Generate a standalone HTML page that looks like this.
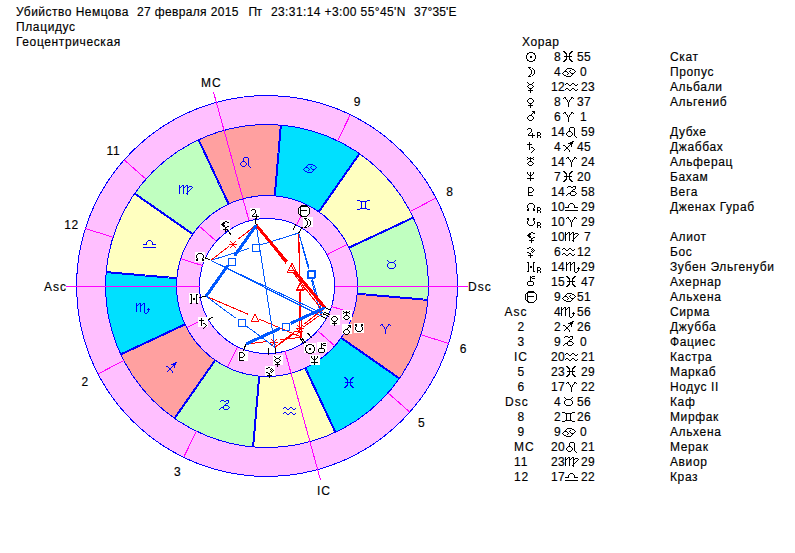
<!DOCTYPE html>
<html><head><meta charset="utf-8"><style>
html,body{margin:0;padding:0;background:#fff;width:795px;height:553px;overflow:hidden}
svg{display:block}
.t{font-family:"Liberation Sans",sans-serif;font-size:12px;fill:#000;letter-spacing:0.62px;stroke:#000;stroke-width:0.15px}
.l{font-family:"Liberation Sans",sans-serif;font-size:12px;fill:#000;letter-spacing:1px;stroke:#000;stroke-width:0.15px}
.n{font-family:"Liberation Sans",sans-serif;font-size:12px;fill:#000;letter-spacing:0.33px;stroke:#000;stroke-width:0.15px}
</style></head><body>
<svg width="795" height="553" viewBox="0 0 795 553"><defs><path id="g_sun" d="M3 0h4v1h-4zM1 1h2v1h-2zM7 1h2v1h-2zM1 2h1v1h-1zM8 2h1v1h-1zM0 3h1v1h-1zM9 3h1v1h-1zM0 4h1v1h-1zM4 4h2v1h-2zM9 4h1v1h-1zM0 5h1v1h-1zM4 5h2v1h-2zM9 5h1v1h-1zM0 6h1v1h-1zM9 6h1v1h-1zM1 7h1v1h-1zM8 7h1v1h-1zM1 8h2v1h-2zM7 8h2v1h-2zM3 9h4v1h-4z"/><path id="g_moon" d="M0 0h3v1h-3zM1 1h1v1h-1zM4 1h1v1h-1zM2 2h1v1h-1zM5 2h1v1h-1zM3 3h1v1h-1zM6 3h1v1h-1zM3 4h1v1h-1zM6 4h1v1h-1zM3 5h1v1h-1zM6 5h1v1h-1zM3 6h1v1h-1zM6 6h1v1h-1zM2 7h1v1h-1zM5 7h1v1h-1zM1 8h1v1h-1zM4 8h1v1h-1zM0 9h3v1h-3z"/><path id="g_mercury" d="M0 0h1v1h-1zM6 0h1v1h-1zM1 1h1v1h-1zM5 1h1v1h-1zM2 2h3v1h-3zM1 3h1v1h-1zM5 3h1v1h-1zM0 4h1v1h-1zM6 4h1v1h-1zM1 5h1v1h-1zM5 5h1v1h-1zM2 6h3v1h-3zM3 7h1v1h-1zM1 8h5v1h-5zM3 9h1v1h-1zM3 10h1v1h-1z"/><path id="g_venus" d="M2 0h3v1h-3zM1 1h1v1h-1zM5 1h1v1h-1zM0 2h1v1h-1zM6 2h1v1h-1zM0 3h1v1h-1zM6 3h1v1h-1zM1 4h1v1h-1zM5 4h1v1h-1zM2 5h3v1h-3zM3 6h1v1h-1zM1 7h5v1h-5zM3 8h1v1h-1zM3 9h1v1h-1z"/><path id="g_mars" d="M5 0h3v1h-3zM6 1h2v1h-2zM5 2h1v1h-1zM7 2h1v1h-1zM4 3h1v1h-1zM2 4h3v1h-3zM1 5h1v1h-1zM5 5h1v1h-1zM0 6h1v1h-1zM6 6h1v1h-1zM0 7h1v1h-1zM6 7h1v1h-1zM1 8h1v1h-1zM5 8h1v1h-1zM2 9h3v1h-3z"/><path id="g_jupiter" d="M1 0h3v1h-3zM0 1h1v1h-1zM4 1h1v1h-1zM4 2h1v1h-1zM4 3h1v1h-1zM3 4h1v1h-1zM2 5h1v1h-1zM5 5h1v1h-1zM1 6h1v1h-1zM5 6h1v1h-1zM1 7h7v1h-7zM5 8h1v1h-1zM5 9h1v1h-1z"/><path id="g_R" d="M0 0h3v1h-3zM0 1h1v1h-1zM3 1h1v1h-1zM0 2h1v1h-1zM3 2h1v1h-1zM0 3h3v1h-3zM0 4h1v1h-1zM3 4h1v1h-1zM0 5h1v1h-1zM3 5h1v1h-1z"/><path id="g_saturn" d="M2 0h1v1h-1zM2 1h1v1h-1zM0 2h5v1h-5zM2 3h1v1h-1zM2 4h1v1h-1zM2 5h1v1h-1zM4 5h2v1h-2zM2 6h1v1h-1zM6 6h1v1h-1zM2 7h1v1h-1zM7 7h1v1h-1zM6 8h1v1h-1zM5 9h1v1h-1zM4 10h1v1h-1z"/><path id="g_uranus" d="M0 0h1v1h-1zM3 0h1v1h-1zM6 0h1v1h-1zM1 1h5v1h-5zM0 2h1v1h-1zM3 2h1v1h-1zM6 2h1v1h-1zM3 3h1v1h-1zM2 4h3v1h-3zM1 5h1v1h-1zM5 5h1v1h-1zM0 6h1v1h-1zM6 6h1v1h-1zM1 7h1v1h-1zM5 7h1v1h-1zM2 8h3v1h-3z"/><path id="g_neptune" d="M0 0h1v1h-1zM3 0h1v1h-1zM6 0h1v1h-1zM0 1h1v1h-1zM3 1h1v1h-1zM6 1h1v1h-1zM1 2h1v1h-1zM3 2h1v1h-1zM5 2h1v1h-1zM2 3h3v1h-3zM3 4h1v1h-1zM3 5h1v1h-1zM0 6h7v1h-7zM3 7h1v1h-1zM3 8h1v1h-1z"/><path id="g_pluto" d="M0 0h4v1h-4zM0 1h1v1h-1zM4 1h1v1h-1zM0 2h1v1h-1zM5 2h1v1h-1zM0 3h1v1h-1zM5 3h1v1h-1zM0 4h1v1h-1zM4 4h1v1h-1zM0 5h4v1h-4zM0 6h1v1h-1zM0 7h1v1h-1zM0 8h5v1h-5z"/><path id="g_nnode" d="M2 0h4v1h-4zM1 1h1v1h-1zM6 1h1v1h-1zM0 2h1v1h-1zM7 2h1v1h-1zM0 3h1v1h-1zM7 3h1v1h-1zM0 4h1v1h-1zM7 4h1v1h-1zM1 5h1v1h-1zM6 5h1v1h-1zM0 6h2v1h-2zM6 6h2v1h-2zM0 7h2v1h-2zM6 7h2v1h-2z"/><path id="g_snode" d="M0 0h2v1h-2zM6 0h2v1h-2zM0 1h2v1h-2zM6 1h2v1h-2zM1 2h1v1h-1zM6 2h1v1h-1zM0 3h1v1h-1zM7 3h1v1h-1zM0 4h1v1h-1zM7 4h1v1h-1zM0 5h1v1h-1zM7 5h1v1h-1zM1 6h1v1h-1zM6 6h1v1h-1zM2 7h4v1h-4z"/><path id="g_lilith" d="M4 0h2v1h-2zM2 1h2v1h-2zM6 1h2v1h-2zM1 2h3v1h-3zM0 3h3v1h-3zM1 4h3v1h-3zM2 5h2v1h-2zM6 5h2v1h-2zM4 6h2v1h-2zM4 7h1v1h-1zM2 8h5v1h-5zM4 9h1v1h-1zM4 10h1v1h-1z"/><path id="g_selena" d="M2 0h2v1h-2zM0 1h2v1h-2zM5 1h1v1h-1zM4 2h1v1h-1zM6 2h1v1h-1zM5 3h1v1h-1zM7 3h1v1h-1zM4 4h1v1h-1zM6 4h1v1h-1zM0 5h2v1h-2zM5 5h1v1h-1zM2 6h2v1h-2zM3 7h1v1h-1zM1 8h5v1h-5zM3 9h1v1h-1zM3 10h1v1h-1z"/><path id="g_H" d="M0 0h2v1h-2zM6 0h2v1h-2zM1 1h1v1h-1zM6 1h1v1h-1zM1 2h1v1h-1zM6 2h1v1h-1zM1 3h1v1h-1zM6 3h1v1h-1zM1 4h1v1h-1zM3 4h2v1h-2zM6 4h1v1h-1zM1 5h1v1h-1zM3 5h2v1h-2zM6 5h1v1h-1zM1 6h1v1h-1zM6 6h1v1h-1zM1 7h1v1h-1zM6 7h1v1h-1zM1 8h1v1h-1zM6 8h1v1h-1zM0 9h2v1h-2zM6 9h2v1h-2z"/><path id="g_chiron" d="M3 0h1v1h-1zM5 0h3v1h-3zM3 1h2v1h-2zM3 2h1v1h-1zM5 2h3v1h-3zM3 3h1v1h-1zM3 4h1v1h-1zM1 5h5v1h-5zM0 6h1v1h-1zM6 6h1v1h-1zM0 7h1v1h-1zM6 7h1v1h-1zM0 8h1v1h-1zM6 8h1v1h-1zM1 9h5v1h-5z"/><path id="g_pf" d="M3 0h6v1h-6zM2 1h8v1h-8zM1 2h2v1h-2zM10 2h1v1h-1zM0 3h1v1h-1zM2 3h1v1h-1zM11 3h1v1h-1zM0 4h1v1h-1zM2 4h1v1h-1zM11 4h1v1h-1zM0 5h1v1h-1zM2 5h7v1h-7zM11 5h1v1h-1zM0 6h1v1h-1zM2 6h1v1h-1zM11 6h1v1h-1zM0 7h1v1h-1zM2 7h1v1h-1zM11 7h1v1h-1zM0 8h1v1h-1zM2 8h1v1h-1zM11 8h1v1h-1zM1 9h2v1h-2zM10 9h1v1h-1zM2 10h2v1h-2zM9 10h1v1h-1zM3 11h6v1h-6z"/><path id="g_pisces" d="M0 0h2v1h-2zM8 0h2v1h-2zM1 1h2v1h-2zM7 1h2v1h-2zM2 2h2v1h-2zM6 2h2v1h-2zM3 3h1v1h-1zM6 3h1v1h-1zM3 4h1v1h-1zM6 4h1v1h-1zM1 5h8v1h-8zM3 6h1v1h-1zM6 6h1v1h-1zM3 7h1v1h-1zM6 7h1v1h-1zM2 8h2v1h-2zM6 8h2v1h-2zM1 9h2v1h-2zM7 9h2v1h-2zM0 10h2v1h-2zM8 10h2v1h-2z"/><path id="g_cancer" d="M5 0h5v1h-5zM4 1h1v1h-1zM10 1h2v1h-2zM3 2h1v1h-1zM8 2h1v1h-1zM12 2h1v1h-1zM2 3h3v1h-3zM7 3h1v1h-1zM13 3h1v1h-1zM1 4h1v1h-1zM5 4h1v1h-1zM8 4h1v1h-1zM12 4h1v1h-1zM0 5h1v1h-1zM6 5h1v1h-1zM9 5h3v1h-3zM1 6h1v1h-1zM5 6h1v1h-1zM10 6h1v1h-1zM2 7h2v1h-2zM9 7h1v1h-1zM4 8h5v1h-5z"/><path id="g_aquarius" d="M1 0h2v1h-2zM7 0h2v1h-2zM0 1h1v1h-1zM3 1h1v1h-1zM6 1h1v1h-1zM9 1h1v1h-1zM12 1h1v1h-1zM4 2h2v1h-2zM10 2h2v1h-2zM1 5h2v1h-2zM7 5h2v1h-2zM0 6h1v1h-1zM3 6h1v1h-1zM6 6h1v1h-1zM9 6h1v1h-1zM12 6h1v1h-1zM4 7h2v1h-2zM10 7h2v1h-2z"/><path id="g_aries" d="M1 0h2v1h-2zM8 0h2v1h-2zM0 1h1v1h-1zM2 1h1v1h-1zM8 1h1v1h-1zM10 1h1v1h-1zM3 2h1v1h-1zM7 2h1v1h-1zM4 3h1v1h-1zM6 3h1v1h-1zM4 4h1v1h-1zM6 4h1v1h-1zM5 5h1v1h-1zM5 6h1v1h-1zM5 7h1v1h-1zM5 8h1v1h-1zM5 9h1v1h-1z"/><path id="g_leo" d="M4 0h4v1h-4zM3 1h1v1h-1zM8 1h1v1h-1zM3 2h1v1h-1zM8 2h1v1h-1zM3 3h1v1h-1zM8 3h1v1h-1zM2 4h3v1h-3zM8 4h1v1h-1zM1 5h1v1h-1zM5 5h1v1h-1zM8 5h1v1h-1zM0 6h1v1h-1zM6 6h1v1h-1zM8 6h1v1h-1zM0 7h1v1h-1zM6 7h1v1h-1zM8 7h1v1h-1zM1 8h1v1h-1zM5 8h1v1h-1zM8 8h1v1h-1zM2 9h3v1h-3zM9 9h1v1h-1zM10 10h1v1h-1z"/><path id="g_sagittarius" d="M9 0h2v1h-2zM7 1h3v1h-3zM5 2h5v1h-5zM7 3h2v1h-2zM0 4h2v1h-2zM6 4h1v1h-1zM8 4h1v1h-1zM2 5h1v1h-1zM5 5h1v1h-1zM8 5h1v1h-1zM3 6h2v1h-2zM3 7h2v1h-2zM2 8h1v1h-1zM5 8h1v1h-1zM1 9h1v1h-1zM6 9h1v1h-1zM6 10h1v1h-1z"/><path id="g_capricorn" d="M2 0h3v1h-3zM7 0h3v1h-3zM1 1h1v1h-1zM5 1h2v1h-2zM9 1h1v1h-1zM9 2h1v1h-1zM7 3h2v1h-2zM6 4h1v1h-1zM5 5h4v1h-4zM4 6h1v1h-1zM9 6h1v1h-1zM2 7h3v1h-3zM10 7h1v1h-1zM1 8h1v1h-1zM4 8h1v1h-1zM9 8h1v1h-1zM0 9h1v1h-1zM5 9h4v1h-4z"/><path id="g_libra" d="M5 0h3v1h-3zM4 1h1v1h-1zM8 1h1v1h-1zM3 2h1v1h-1zM9 2h1v1h-1zM3 3h1v1h-1zM9 3h1v1h-1zM0 4h4v1h-4zM9 4h4v1h-4zM0 7h13v1h-13z"/><path id="g_virgo" d="M0 0h1v1h-1zM3 0h2v1h-2zM7 0h2v1h-2zM0 1h1v1h-1zM2 1h1v1h-1zM4 1h1v1h-1zM6 1h1v1h-1zM8 1h1v1h-1zM10 1h3v1h-3zM0 2h2v1h-2zM4 2h2v1h-2zM8 2h2v1h-2zM13 2h1v1h-1zM0 3h1v1h-1zM4 3h1v1h-1zM8 3h1v1h-1zM12 3h1v1h-1zM0 4h1v1h-1zM4 4h1v1h-1zM8 4h1v1h-1zM11 4h1v1h-1zM0 5h1v1h-1zM4 5h1v1h-1zM8 5h1v1h-1zM10 5h1v1h-1zM0 6h1v1h-1zM4 6h1v1h-1zM8 6h2v1h-2zM0 7h1v1h-1zM4 7h1v1h-1zM8 7h1v1h-1zM0 8h1v1h-1zM4 8h1v1h-1zM7 8h2v1h-2zM8 9h1v1h-1z"/><path id="g_scorpio" d="M0 0h1v1h-1zM3 0h2v1h-2zM7 0h2v1h-2zM0 1h1v1h-1zM2 1h1v1h-1zM4 1h1v1h-1zM6 1h1v1h-1zM8 1h1v1h-1zM0 2h2v1h-2zM4 2h2v1h-2zM8 2h1v1h-1zM0 3h1v1h-1zM4 3h1v1h-1zM8 3h1v1h-1zM0 4h1v1h-1zM4 4h1v1h-1zM8 4h1v1h-1zM0 5h1v1h-1zM4 5h1v1h-1zM8 5h1v1h-1zM12 5h1v1h-1zM0 6h1v1h-1zM4 6h1v1h-1zM8 6h1v1h-1zM11 6h3v1h-3zM0 7h1v1h-1zM4 7h1v1h-1zM8 7h1v1h-1zM12 7h1v1h-1zM0 8h1v1h-1zM4 8h1v1h-1zM8 8h1v1h-1zM12 8h1v1h-1zM8 9h1v1h-1zM11 9h1v1h-1zM9 10h2v1h-2z"/><path id="g_taurus" d="M0 0h1v1h-1zM8 0h1v1h-1zM1 1h1v1h-1zM7 1h1v1h-1zM2 2h5v1h-5zM1 3h1v1h-1zM7 3h1v1h-1zM0 4h1v1h-1zM8 4h1v1h-1zM0 5h1v1h-1zM8 5h1v1h-1zM0 6h1v1h-1zM8 6h1v1h-1zM1 7h1v1h-1zM7 7h1v1h-1zM2 8h5v1h-5z"/><path id="g_gemini" d="M0 0h3v1h-3zM10 0h3v1h-3zM3 1h7v1h-7zM4 2h1v1h-1zM8 2h1v1h-1zM4 3h1v1h-1zM8 3h1v1h-1zM4 4h1v1h-1zM8 4h1v1h-1zM4 5h1v1h-1zM8 5h1v1h-1zM4 6h1v1h-1zM8 6h1v1h-1zM4 7h1v1h-1zM8 7h1v1h-1zM3 8h7v1h-7zM0 9h3v1h-3zM10 9h3v1h-3z"/><path id="g_m_sq" d="M0 0h8v1h-8zM0 1h1v1h-1zM7 1h1v1h-1zM0 2h1v1h-1zM7 2h1v1h-1zM0 3h1v1h-1zM7 3h1v1h-1zM0 4h1v1h-1zM7 4h1v1h-1zM0 5h1v1h-1zM7 5h1v1h-1zM0 6h1v1h-1zM7 6h1v1h-1zM0 7h8v1h-8z"/><path id="g_m_tri" d="M3 0h2v1h-2zM3 1h2v1h-2zM2 2h1v1h-1zM5 2h1v1h-1zM2 3h1v1h-1zM5 3h1v1h-1zM1 4h1v1h-1zM6 4h1v1h-1zM1 5h1v1h-1zM6 5h1v1h-1zM0 6h1v1h-1zM7 6h1v1h-1zM0 7h8v1h-8z"/><path id="g_m_sex" d="M1 0h1v1h-1zM6 0h1v1h-1zM2 1h1v1h-1zM5 1h1v1h-1zM3 2h2v1h-2zM0 3h8v1h-8zM3 4h2v1h-2zM2 5h1v1h-1zM5 5h1v1h-1zM1 6h1v1h-1zM6 6h1v1h-1z"/></defs><g shape-rendering="crispEdges"><circle cx="267.0" cy="286.0" r="190.5" fill="#ffbfff" stroke="#0000ff" stroke-width="1"/><path d="M399.4,378.48 A161.5,161.5 0 0 0 427.9,299.89 L357.16,293.78 A90.5,90.5 0 0 1 341.19,337.82 Z" fill="#ffa0a0"/><path d="M427.9,299.89 A161.5,161.5 0 0 0 413.29,217.58 L348.98,247.66 A90.5,90.5 0 0 1 357.16,293.78 Z" fill="#c0ffc0"/><path d="M413.29,217.58 A161.5,161.5 0 0 0 359.48,153.6 L318.82,211.81 A90.5,90.5 0 0 1 348.98,247.66 Z" fill="#ffffc0"/><path d="M359.48,153.6 A161.5,161.5 0 0 0 280.89,125.1 L274.78,195.84 A90.5,90.5 0 0 1 318.82,211.81 Z" fill="#00e0ff"/><path d="M280.89,125.1 A161.5,161.5 0 0 0 198.58,139.71 L228.66,204.02 A90.5,90.5 0 0 1 274.78,195.84 Z" fill="#ffa0a0"/><path d="M198.58,139.71 A161.5,161.5 0 0 0 134.6,193.52 L192.81,234.18 A90.5,90.5 0 0 1 228.66,204.02 Z" fill="#c0ffc0"/><path d="M134.6,193.52 A161.5,161.5 0 0 0 106.1,272.11 L176.84,278.22 A90.5,90.5 0 0 1 192.81,234.18 Z" fill="#ffffc0"/><path d="M106.1,272.11 A161.5,161.5 0 0 0 120.71,354.42 L185.02,324.34 A90.5,90.5 0 0 1 176.84,278.22 Z" fill="#00e0ff"/><path d="M120.71,354.42 A161.5,161.5 0 0 0 174.52,418.4 L215.18,360.19 A90.5,90.5 0 0 1 185.02,324.34 Z" fill="#ffa0a0"/><path d="M174.52,418.4 A161.5,161.5 0 0 0 253.11,446.9 L259.22,376.16 A90.5,90.5 0 0 1 215.18,360.19 Z" fill="#c0ffc0"/><path d="M253.11,446.9 A161.5,161.5 0 0 0 335.42,432.29 L305.34,367.98 A90.5,90.5 0 0 1 259.22,376.16 Z" fill="#ffffc0"/><path d="M335.42,432.29 A161.5,161.5 0 0 0 399.4,378.48 L341.19,337.82 A90.5,90.5 0 0 1 305.34,367.98 Z" fill="#00e0ff"/><circle cx="267.0" cy="286.0" r="161.5" fill="none" stroke="#0000ff" stroke-width="1"/><circle cx="267.0" cy="286.0" r="90.5" fill="#ffbfff" stroke="#0000ff" stroke-width="1"/><circle cx="267.0" cy="286.0" r="67.5" fill="#fff" stroke="#0000ff" stroke-width="1"/><line x1="340.91" y1="338.23" x2="399.11" y2="378.89" stroke="#0000ff" stroke-width="1"/><line x1="341.48" y1="337.41" x2="399.69" y2="378.07" stroke="#0000ff" stroke-width="1"/><line x1="357.12" y1="294.28" x2="427.86" y2="300.39" stroke="#0000ff" stroke-width="1"/><line x1="357.21" y1="293.28" x2="427.94" y2="299.39" stroke="#0000ff" stroke-width="1"/><line x1="349.19" y1="248.11" x2="413.5" y2="218.03" stroke="#0000ff" stroke-width="1"/><line x1="348.76" y1="247.2" x2="413.08" y2="217.12" stroke="#0000ff" stroke-width="1"/><line x1="319.23" y1="212.09" x2="359.89" y2="153.89" stroke="#0000ff" stroke-width="1"/><line x1="318.41" y1="211.52" x2="359.07" y2="153.31" stroke="#0000ff" stroke-width="1"/><line x1="275.28" y1="195.88" x2="281.39" y2="125.14" stroke="#0000ff" stroke-width="1"/><line x1="274.28" y1="195.79" x2="280.39" y2="125.06" stroke="#0000ff" stroke-width="1"/><line x1="229.11" y1="203.81" x2="199.03" y2="139.5" stroke="#0000ff" stroke-width="1"/><line x1="228.2" y1="204.24" x2="198.12" y2="139.92" stroke="#0000ff" stroke-width="1"/><line x1="193.09" y1="233.77" x2="134.89" y2="193.11" stroke="#0000ff" stroke-width="1"/><line x1="192.52" y1="234.59" x2="134.31" y2="193.93" stroke="#0000ff" stroke-width="1"/><line x1="176.88" y1="277.72" x2="106.14" y2="271.61" stroke="#0000ff" stroke-width="1"/><line x1="176.79" y1="278.72" x2="106.06" y2="272.61" stroke="#0000ff" stroke-width="1"/><line x1="184.81" y1="323.89" x2="120.5" y2="353.97" stroke="#0000ff" stroke-width="1"/><line x1="185.24" y1="324.8" x2="120.92" y2="354.88" stroke="#0000ff" stroke-width="1"/><line x1="214.77" y1="359.91" x2="174.11" y2="418.11" stroke="#0000ff" stroke-width="1"/><line x1="215.59" y1="360.48" x2="174.93" y2="418.69" stroke="#0000ff" stroke-width="1"/><line x1="258.72" y1="376.12" x2="252.61" y2="446.86" stroke="#0000ff" stroke-width="1"/><line x1="259.72" y1="376.21" x2="253.61" y2="446.94" stroke="#0000ff" stroke-width="1"/><line x1="304.89" y1="368.19" x2="334.97" y2="432.5" stroke="#0000ff" stroke-width="1"/><line x1="305.8" y1="367.76" x2="335.88" y2="432.08" stroke="#0000ff" stroke-width="1"/><use href="#g_aries" x="380" y="324" fill="#0000ff"/><use href="#g_taurus" x="387" y="260" fill="#0000ff"/><use href="#g_gemini" x="357" y="200" fill="#0000ff"/><use href="#g_cancer" x="303" y="164" fill="#0000ff"/><use href="#g_leo" x="240" y="157" fill="#0000ff"/><use href="#g_virgo" x="179" y="185" fill="#0000ff"/><use href="#g_libra" x="143" y="240" fill="#0000ff"/><use href="#g_scorpio" x="136" y="303" fill="#0000ff"/><use href="#g_sagittarius" x="166" y="362" fill="#0000ff"/><use href="#g_capricorn" x="219" y="400" fill="#0000ff"/><use href="#g_aquarius" x="283" y="407" fill="#0000ff"/><use href="#g_pisces" x="344" y="377" fill="#0000ff"/><line x1="199.5" y1="286" x2="66" y2="286" stroke="#ff00ff" stroke-width="1"/><line x1="207.13" y1="317.17" x2="186.73" y2="327.79" stroke="#ff00ff" stroke-width="1"/><line x1="123.75" y1="360.57" x2="98.02" y2="373.96" stroke="#ff00ff" stroke-width="1"/><line x1="237.48" y1="346.7" x2="227.42" y2="367.39" stroke="#ff00ff" stroke-width="1"/><line x1="196.37" y1="431.24" x2="183.69" y2="457.32" stroke="#ff00ff" stroke-width="1"/><line x1="284.94" y1="351.07" x2="320.43" y2="479.77" stroke="#ff00ff" stroke-width="1"/><line x1="317.59" y1="330.68" x2="334.83" y2="345.91" stroke="#ff00ff" stroke-width="1"/><line x1="388.05" y1="392.91" x2="409.79" y2="412.1" stroke="#ff00ff" stroke-width="1"/><line x1="331.35" y1="306.37" x2="353.28" y2="313.31" stroke="#ff00ff" stroke-width="1"/><line x1="420.97" y1="334.74" x2="448.62" y2="343.5" stroke="#ff00ff" stroke-width="1"/><line x1="334.5" y1="286" x2="468" y2="286" stroke="#ff00ff" stroke-width="1"/><line x1="326.87" y1="254.83" x2="347.27" y2="244.21" stroke="#ff00ff" stroke-width="1"/><line x1="410.25" y1="211.43" x2="435.98" y2="198.04" stroke="#ff00ff" stroke-width="1"/><line x1="296.52" y1="225.3" x2="306.58" y2="204.61" stroke="#ff00ff" stroke-width="1"/><line x1="337.63" y1="140.76" x2="350.31" y2="114.68" stroke="#ff00ff" stroke-width="1"/><line x1="249.06" y1="220.93" x2="213.57" y2="92.23" stroke="#ff00ff" stroke-width="1"/><line x1="216.41" y1="241.32" x2="199.17" y2="226.09" stroke="#ff00ff" stroke-width="1"/><line x1="145.95" y1="179.09" x2="124.21" y2="159.9" stroke="#ff00ff" stroke-width="1"/><line x1="202.65" y1="265.63" x2="180.72" y2="258.69" stroke="#ff00ff" stroke-width="1"/><line x1="113.03" y1="237.26" x2="85.38" y2="228.5" stroke="#ff00ff" stroke-width="1"/></g><text x="85.22" y="386.19" class="t" text-anchor="middle">2</text><text x="177.63" y="476.11" class="t" text-anchor="middle">3</text><text x="421.53" y="427.33" class="t" text-anchor="middle">5</text><text x="463.42" y="353.32" class="t" text-anchor="middle">6</text><text x="449.78" y="196.41" class="t" text-anchor="middle">8</text><text x="357.37" y="106.49" class="t" text-anchor="middle">9</text><text x="113.47" y="155.27" class="t" text-anchor="middle">11</text><text x="71.58" y="229.28" class="t" text-anchor="middle">12</text><text x="44" y="291" class="l">Asc</text><text x="468" y="291" class="l">Dsc</text><text x="201" y="87" class="l">MC</text><text x="317" y="495" class="l">IC</text><g shape-rendering="crispEdges"><line x1="301.66" y1="337.41" x2="305.57" y2="343.21" stroke="#000" stroke-width="1"/><line x1="298.87" y1="232.82" x2="302.47" y2="226.81" stroke="#000" stroke-width="1"/><line x1="275.04" y1="347.48" x2="275.95" y2="354.42" stroke="#000" stroke-width="1"/><line x1="322.57" y1="313.49" x2="328.85" y2="316.59" stroke="#000" stroke-width="1"/><line x1="321.27" y1="315.98" x2="327.4" y2="319.36" stroke="#000" stroke-width="1"/><line x1="256.18" y1="224.95" x2="254.96" y2="218.06" stroke="#000" stroke-width="1"/><line x1="213.21" y1="316.83" x2="207.13" y2="320.31" stroke="#000" stroke-width="1"/><line x1="325.06" y1="307.75" x2="331.62" y2="310.2" stroke="#000" stroke-width="1"/><line x1="300.22" y1="338.35" x2="303.97" y2="344.26" stroke="#000" stroke-width="1"/><line x1="245.83" y1="344.27" x2="243.44" y2="350.85" stroke="#000" stroke-width="1"/><line x1="210.56" y1="260.34" x2="204.19" y2="257.44" stroke="#000" stroke-width="1"/><line x1="323.44" y1="311.66" x2="329.81" y2="314.56" stroke="#000" stroke-width="1"/><line x1="231.28" y1="235.33" x2="227.24" y2="229.61" stroke="#000" stroke-width="1"/><line x1="268.37" y1="347.98" x2="268.53" y2="354.98" stroke="#000" stroke-width="1"/><line x1="205.86" y1="296.29" x2="198.96" y2="297.45" stroke="#000" stroke-width="1"/><line x1="307.55" y1="332.9" x2="312.13" y2="338.19" stroke="#000" stroke-width="1"/><line x1="293.28" y1="229.85" x2="296.25" y2="223.51" stroke="#000" stroke-width="1"/></g><g shape-rendering="crispEdges"><line x1="301.54" y1="337.24" x2="300.32" y2="291.12" stroke="#ff0000" stroke-width="1"/><line x1="300" y1="279.12" x2="298.77" y2="232.99" stroke="#ff0000" stroke-width="1"/><use href="#g_m_tri" x="297" y="282" fill="#ff0000"/><line x1="301.54" y1="337.24" x2="279.68" y2="339.93" stroke="#ff0000" stroke-width="1"/><line x1="267.76" y1="341.4" x2="245.9" y2="344.09" stroke="#ff0000" stroke-width="1"/><use href="#g_m_sex" x="270" y="339" fill="#ff0000"/><line x1="301.54" y1="337.24" x2="259.31" y2="319.12" stroke="#ff0000" stroke-width="1"/><line x1="248.29" y1="314.38" x2="206.06" y2="296.25" stroke="#ff0000" stroke-width="1"/><use href="#g_m_tri" x="251" y="314" fill="#ff0000"/><line x1="298.77" y1="232.99" x2="308.89" y2="267.44" stroke="#0058ff" stroke-width="1"/><line x1="312.27" y1="278.95" x2="322.39" y2="313.4" stroke="#0058ff" stroke-width="1"/><use href="#g_m_sq" x="308" y="270" fill="#0058ff"/><line x1="298.77" y1="232.99" x2="308.37" y2="268.64" stroke="#0058ff" stroke-width="1"/><line x1="311.49" y1="280.23" x2="321.1" y2="315.88" stroke="#0058ff" stroke-width="1"/><use href="#g_m_sq" x="307" y="271" fill="#0058ff"/><line x1="298.77" y1="232.99" x2="299.36" y2="279.59" stroke="#ff0000" stroke-width="1"/><line x1="299.52" y1="291.58" x2="300.11" y2="338.18" stroke="#ff0000" stroke-width="1"/><use href="#g_m_tri" x="296" y="283" fill="#ff0000"/><line x1="298.77" y1="232.99" x2="260.48" y2="244.92" stroke="#0058ff" stroke-width="1"/><line x1="249.03" y1="248.49" x2="210.74" y2="260.42" stroke="#0058ff" stroke-width="1"/><use href="#g_m_sq" x="252" y="244" fill="#0058ff"/><line x1="275.01" y1="347.28" x2="293.82" y2="333.83" stroke="#ff0000" stroke-width="1"/><line x1="303.58" y1="326.85" x2="322.39" y2="313.4" stroke="#ff0000" stroke-width="1"/><use href="#g_m_sex" x="295" y="328" fill="#ff0000"/><line x1="275.01" y1="347.28" x2="256.22" y2="225.15" stroke="#0058ff" stroke-width="1"/><line x1="275.01" y1="347.28" x2="295.25" y2="331.21" stroke="#ff0000" stroke-width="1"/><line x1="304.64" y1="323.75" x2="324.87" y2="307.68" stroke="#ff0000" stroke-width="1"/><use href="#g_m_sex" x="296" y="325" fill="#ff0000"/><line x1="275.01" y1="347.28" x2="245.36" y2="325.33" stroke="#0058ff" stroke-width="1"/><line x1="235.71" y1="318.2" x2="206.06" y2="296.25" stroke="#0058ff" stroke-width="1"/><use href="#g_m_sq" x="238" y="319" fill="#0058ff"/><line x1="322.39" y1="313.4" x2="210.74" y2="260.42" stroke="#0058ff" stroke-width="1"/><line x1="321.1" y1="315.88" x2="210.74" y2="260.42" stroke="#0058ff" stroke-width="1"/><line x1="256.22" y1="225.15" x2="286.71" y2="261.8" stroke="#ff0000" stroke-width="3"/><line x1="294.38" y1="271.02" x2="324.87" y2="307.68" stroke="#ff0000" stroke-width="3"/><use href="#g_m_tri" x="288" y="263" fill="#ff0000"/><line x1="256.22" y1="225.15" x2="238.22" y2="239.11" stroke="#ff0000" stroke-width="1"/><line x1="228.74" y1="246.46" x2="210.74" y2="260.42" stroke="#ff0000" stroke-width="1"/><use href="#g_m_sex" x="229" y="241" fill="#ff0000"/><line x1="256.22" y1="225.15" x2="286.06" y2="263.62" stroke="#ff0000" stroke-width="1"/><line x1="293.41" y1="273.1" x2="323.26" y2="311.58" stroke="#ff0000" stroke-width="1"/><use href="#g_m_tri" x="287" y="265" fill="#ff0000"/><line x1="256.22" y1="225.15" x2="234.59" y2="255.8" stroke="#0058ff" stroke-width="3"/><line x1="227.68" y1="265.6" x2="206.06" y2="296.25" stroke="#0058ff" stroke-width="3"/><use href="#g_m_sq" x="228" y="258" fill="#0058ff"/><line x1="324.87" y1="307.68" x2="290.83" y2="323.37" stroke="#0058ff" stroke-width="3"/><line x1="279.94" y1="328.39" x2="245.9" y2="344.09" stroke="#0058ff" stroke-width="3"/><use href="#g_m_sq" x="282" y="323" fill="#0058ff"/></g><g shape-rendering="crispEdges"><rect x="250" y="208" width="10" height="10" fill="#fff"/><use href="#g_jupiter" x="251" y="209" fill="#000"/><rect x="220" y="220" width="10" height="10" fill="#fff"/><use href="#g_lilith" x="221" y="221" fill="#000"/><rect x="195" y="252" width="10" height="10" fill="#fff"/><use href="#g_nnode" x="196" y="253" fill="#000"/><rect x="189" y="293" width="10" height="10" fill="#fff"/><use href="#g_H" x="190" y="294" fill="#000"/><rect x="198" y="317" width="10" height="10" fill="#fff"/><use href="#g_saturn" x="199" y="318" fill="#000"/><rect x="238" y="351" width="10" height="10" fill="#fff"/><use href="#g_pluto" x="239" y="352" fill="#000"/><rect x="273" y="355" width="10" height="10" fill="#fff"/><use href="#g_mercury" x="274" y="356" fill="#000"/><rect x="265" y="366" width="10" height="10" fill="#fff"/><use href="#g_selena" x="266" y="367" fill="#000"/><rect x="304" y="343" width="12" height="10" fill="#fff"/><use href="#g_sun" x="305" y="344" fill="#000"/><rect x="317" y="342" width="10" height="10" fill="#fff"/><use href="#g_chiron" x="318" y="343" fill="#000"/><rect x="310" y="355" width="10" height="10" fill="#fff"/><use href="#g_neptune" x="311" y="356" fill="#000"/><rect x="330" y="315" width="10" height="10" fill="#fff"/><use href="#g_venus" x="331" y="316" fill="#000"/><rect x="342" y="310" width="10" height="10" fill="#fff"/><use href="#g_uranus" x="343" y="311" fill="#000"/><rect x="342" y="324" width="10" height="10" fill="#fff"/><use href="#g_mars" x="343" y="325" fill="#000"/><rect x="354" y="323" width="10" height="10" fill="#fff"/><use href="#g_snode" x="355" y="324" fill="#000"/><circle cx="304" cy="211" r="5.6" fill="#fff"/><use href="#g_pf" x="298" y="205" fill="#000"/><rect x="303" y="217" width="10" height="10" fill="#fff"/><use href="#g_moon" x="304" y="218" fill="#000"/></g><text x="16" y="16" class="t" textLength="113" lengthAdjust="spacing">Убийство Немцова</text><text x="137" y="16" class="t" textLength="102" lengthAdjust="spacing">27 февраля 2015</text><text x="248.5" y="16" class="t" textLength="14" lengthAdjust="spacing">Пт</text><text x="271" y="16" class="t" textLength="135" lengthAdjust="spacing">23:31:14 +3:00 55°45'N</text><text x="414" y="16" class="t" textLength="43" lengthAdjust="spacing">37°35'E</text><text x="16" y="31" class="t">Плацидус</text><text x="16" y="46" class="t">Геоцентрическая</text><text x="522" y="46" class="t">Хорар</text><use href="#g_sun" x="526" y="52" fill="#000"/><text x="554" y="61" class="n">8</text><use href="#g_pisces" x="563" y="51" fill="#000"/><text x="577" y="61" class="n">55</text><text x="670" y="61" class="t">Скат</text><use href="#g_moon" x="528" y="67" fill="#000"/><text x="554" y="76" class="n">4</text><use href="#g_cancer" x="562" y="68" fill="#000"/><text x="580" y="76" class="n">0</text><text x="670" y="76" class="t">Пропус</text><use href="#g_mercury" x="527" y="82" fill="#000"/><text x="551" y="91" class="n">12</text><use href="#g_aquarius" x="565" y="83" fill="#000"/><text x="581" y="91" class="n">23</text><text x="670" y="91" class="t">Альбали</text><use href="#g_venus" x="527" y="98" fill="#000"/><text x="554" y="106" class="n">8</text><use href="#g_aries" x="563" y="97" fill="#000"/><text x="577" y="106" class="n">37</text><text x="670" y="106" class="t">Альгениб</text><use href="#g_mars" x="527" y="111" fill="#000"/><text x="554" y="121" class="n">6</text><use href="#g_aries" x="563" y="112" fill="#000"/><text x="580" y="121" class="n">1</text><use href="#g_jupiter" x="527" y="128" fill="#000"/><use href="#g_R" x="537" y="132" fill="#000"/><text x="551" y="136" class="n">14</text><use href="#g_leo" x="566" y="127" fill="#000"/><text x="581" y="136" class="n">59</text><text x="670" y="136" class="t">Дубхе</text><use href="#g_saturn" x="527" y="142" fill="#000"/><text x="554" y="151" class="n">4</text><use href="#g_sagittarius" x="563" y="141" fill="#000"/><text x="577" y="151" class="n">45</text><text x="670" y="151" class="t">Джаббах</text><use href="#g_uranus" x="527" y="157" fill="#000"/><text x="551" y="166" class="n">14</text><use href="#g_aries" x="566" y="157" fill="#000"/><text x="581" y="166" class="n">24</text><text x="670" y="166" class="t">Альферац</text><use href="#g_neptune" x="527" y="172" fill="#000"/><text x="554" y="181" class="n">7</text><use href="#g_pisces" x="563" y="171" fill="#000"/><text x="577" y="181" class="n">20</text><text x="670" y="181" class="t">Бахам</text><use href="#g_pluto" x="528" y="187" fill="#000"/><text x="551" y="196" class="n">14</text><use href="#g_capricorn" x="566" y="186" fill="#000"/><text x="581" y="196" class="n">58</text><text x="670" y="196" class="t">Вега</text><use href="#g_nnode" x="527" y="203" fill="#000"/><use href="#g_R" x="537" y="207" fill="#000"/><text x="551" y="211" class="n">10</text><use href="#g_libra" x="565" y="203" fill="#000"/><text x="581" y="211" class="n">29</text><text x="670" y="211" class="t">Дженах Гураб</text><use href="#g_snode" x="527" y="218" fill="#000"/><use href="#g_R" x="537" y="222" fill="#000"/><text x="551" y="226" class="n">10</text><use href="#g_aries" x="566" y="217" fill="#000"/><text x="581" y="226" class="n">29</text><use href="#g_lilith" x="527" y="232" fill="#000"/><text x="551" y="241" class="n">10</text><use href="#g_virgo" x="565" y="232" fill="#000"/><text x="584" y="241" class="n">7</text><text x="670" y="241" class="t">Алиот</text><use href="#g_selena" x="527" y="247" fill="#000"/><text x="554" y="256" class="n">6</text><use href="#g_aquarius" x="562" y="248" fill="#000"/><text x="577" y="256" class="n">12</text><text x="670" y="256" class="t">Бос</text><use href="#g_H" x="527" y="262" fill="#000"/><use href="#g_R" x="537" y="267" fill="#000"/><text x="551" y="271" class="n">14</text><use href="#g_scorpio" x="566" y="262" fill="#000"/><text x="581" y="271" class="n">29</text><text x="670" y="271" class="t">Зубен Эльгенуби</text><use href="#g_chiron" x="527" y="276" fill="#000"/><text x="551" y="286" class="n">15</text><use href="#g_pisces" x="566" y="276" fill="#000"/><text x="581" y="286" class="n">47</text><text x="670" y="286" class="t">Ахернар</text><use href="#g_pf" x="525" y="291" fill="#000"/><text x="554" y="301" class="n">9</text><use href="#g_cancer" x="562" y="293" fill="#000"/><text x="577" y="301" class="n">51</text><text x="670" y="301" class="t">Альхена</text><text x="504.4" y="316" class="l">Asc</text><text x="554" y="316" class="n">4</text><use href="#g_scorpio" x="561" y="307" fill="#000"/><text x="577" y="316" class="n">56</text><text x="670" y="316" class="t">Сирма</text><text x="517.5" y="331" class="l">2</text><text x="554" y="331" class="n">2</text><use href="#g_sagittarius" x="563" y="321" fill="#000"/><text x="577" y="331" class="n">26</text><text x="670" y="331" class="t">Джубба</text><text x="517.5" y="346" class="l">3</text><text x="554" y="346" class="n">9</text><use href="#g_capricorn" x="563" y="336" fill="#000"/><text x="580" y="346" class="n">0</text><text x="670" y="346" class="t">Фациес</text><text x="513.9" y="361" class="l">IC</text><text x="551" y="361" class="n">20</text><use href="#g_aquarius" x="565" y="353" fill="#000"/><text x="581" y="361" class="n">21</text><text x="670" y="361" class="t">Кастра</text><text x="517.5" y="376" class="l">5</text><text x="551" y="376" class="n">23</text><use href="#g_pisces" x="566" y="366" fill="#000"/><text x="581" y="376" class="n">29</text><text x="670" y="376" class="t">Маркаб</text><text x="517.5" y="391" class="l">6</text><text x="551" y="391" class="n">17</text><use href="#g_aries" x="566" y="382" fill="#000"/><text x="581" y="391" class="n">22</text><text x="670" y="391" class="t">Нодус II</text><text x="505" y="406" class="l">Dsc</text><text x="554" y="406" class="n">4</text><use href="#g_taurus" x="564" y="397" fill="#000"/><text x="577" y="406" class="n">56</text><text x="670" y="406" class="t">Каф</text><text x="517.5" y="421" class="l">8</text><text x="554" y="421" class="n">2</text><use href="#g_gemini" x="562" y="412" fill="#000"/><text x="577" y="421" class="n">26</text><text x="670" y="421" class="t">Мирфак</text><text x="517.5" y="436" class="l">9</text><text x="554" y="436" class="n">9</text><use href="#g_cancer" x="562" y="428" fill="#000"/><text x="580" y="436" class="n">0</text><text x="670" y="436" class="t">Альхена</text><text x="513.9" y="451" class="l">MC</text><text x="551" y="451" class="n">20</text><use href="#g_leo" x="566" y="442" fill="#000"/><text x="581" y="451" class="n">21</text><text x="670" y="451" class="t">Мерак</text><text x="513.9" y="466" class="l">11</text><text x="551" y="466" class="n">23</text><use href="#g_virgo" x="565" y="457" fill="#000"/><text x="581" y="466" class="n">29</text><text x="670" y="466" class="t">Авиор</text><text x="513.9" y="481" class="l">12</text><text x="551" y="481" class="n">17</text><use href="#g_libra" x="565" y="473" fill="#000"/><text x="581" y="481" class="n">22</text><text x="670" y="481" class="t">Краз</text></svg>
</body></html>
